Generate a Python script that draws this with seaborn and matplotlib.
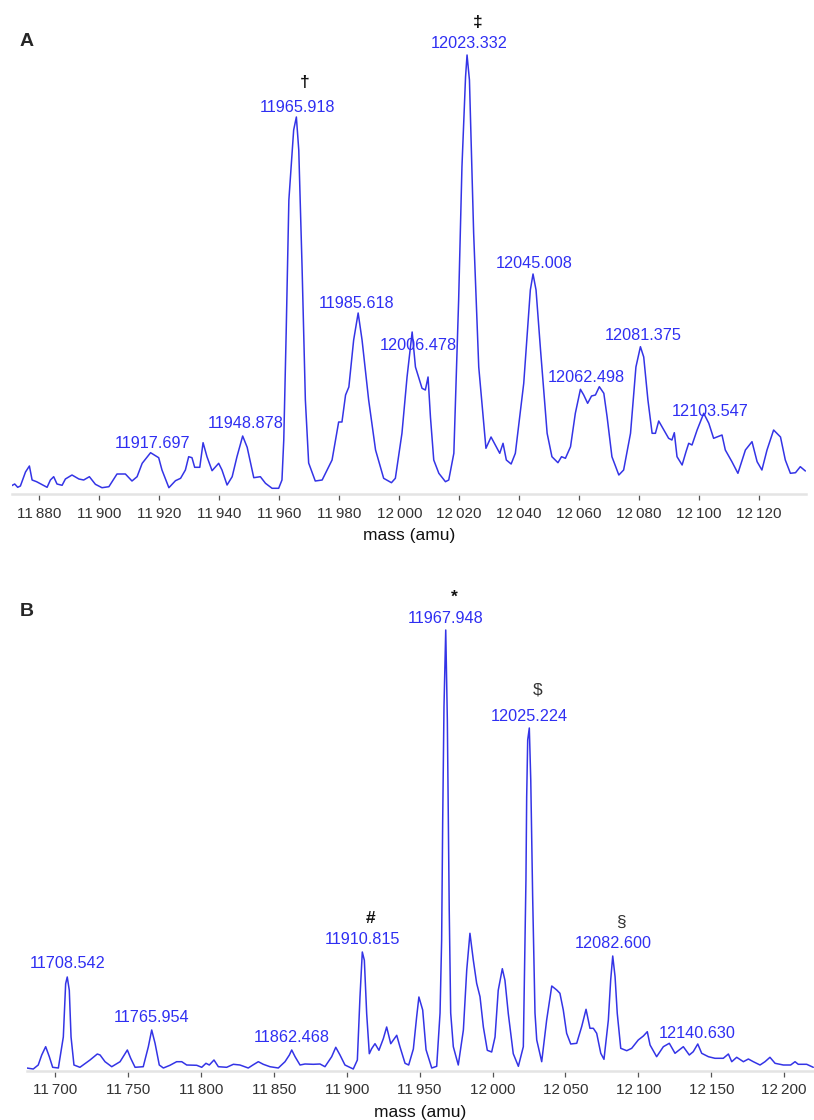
import matplotlib
matplotlib.use("Agg")
import matplotlib.pyplot as plt
from matplotlib.ticker import MultipleLocator, FuncFormatter
import numpy as np
import pandas as pd
import seaborn as sns

# ---------------- data: panel A ----------------
mass_a = [
    11870.6, 11871.8, 11872.8, 11873.7, 11875.4, 11876.7, 11877.6, 11879.1,
    11882.6, 11883.7, 11884.8, 11885.9, 11887.6, 11888.7, 11890.9, 11893.2,
    11894.8, 11896.7, 11898.7, 11900.9, 11903.2, 11905.9, 11908.7, 11910.9,
    11912.6, 11914.3, 11917.1, 11919.8, 11920.9, 11923.2, 11925.4, 11927.1,
    11928.7, 11929.8, 11930.9, 11931.8, 11933.5, 11934.6, 11935.9, 11937.6,
    11939.8, 11940.9, 11942.6, 11944.3, 11945.9, 11947.8, 11949.3, 11951.5,
    11953.7, 11955.4, 11957.6, 11959.8, 11960.9, 11961.5, 11962.3, 11963.2,
    11964.8, 11965.7, 11966.5, 11967.6, 11968.7, 11969.8, 11972.0, 11974.3,
    11977.6, 11979.8, 11980.9, 11982.1, 11983.2, 11984.8, 11986.3, 11987.6,
    11989.8, 11992.1, 11994.8, 11997.4, 11998.7, 12000.9, 12002.6, 12004.3,
    12005.4, 12007.6, 12008.7, 12009.6, 12010.4, 12011.5, 12013.2, 12015.4,
    12016.5, 12018.2, 12019.8, 12020.9, 12022.1, 12022.6, 12023.4, 12024.8,
    12026.5, 12028.9, 12030.6, 12033.5, 12034.6, 12035.7, 12037.3, 12038.7,
    12041.5, 12043.7, 12044.6, 12045.6, 12047.1, 12049.3, 12050.9, 12052.9,
    12054.1, 12055.4, 12057.1, 12058.7, 12060.4, 12061.5, 12062.8, 12064.1,
    12065.4, 12066.7, 12068.2, 12069.3, 12070.9, 12073.2, 12074.8, 12077.1,
    12078.9, 12080.4, 12081.5, 12082.9, 12084.3, 12085.4, 12086.5, 12087.9,
    12089.8, 12090.9, 12091.7, 12092.6, 12094.3, 12095.6, 12096.5, 12097.6,
    12099.3, 12101.5, 12103.2, 12104.8, 12107.6, 12108.7, 12110.9, 12112.9,
    12115.4, 12117.6, 12119.3, 12120.9, 12122.6, 12124.8, 12127.1, 12128.7,
    12130.4, 12132.1, 12133.7, 12135.4,
]
intensity_a = [
    8, 10, 6.7, 8, 22, 28, 14, 12.3,
    6.7, 14, 17.3, 10, 8.7, 15, 19, 15,
    14, 17.3, 9.7, 6.3, 7.3, 20, 20, 13,
    17.3, 30.7, 41.3, 36.3, 24, 6.3, 13.3, 15.7,
    24, 37.3, 36.3, 26.7, 26.7, 51.3, 37.3, 23.3,
    30.7, 24, 9, 17.3, 37.3, 58, 46.7, 16.3,
    17.3, 10.7, 5.7, 5.7, 14, 54, 161, 294,
    364, 377, 344, 227, 94, 31, 13, 14,
    34, 72, 72, 99, 107, 154, 181, 154,
    94, 44, 15.7, 11.3, 15.7, 60.7, 117, 162,
    127, 105.7, 104, 117, 77, 34, 20.7, 12.3,
    14, 40.7, 194, 327, 417, 439, 414, 261,
    127, 45.7, 57, 40.7, 50.7, 34, 30, 40.7,
    110.7, 204, 220, 204, 144, 60.7, 37.3, 31.3,
    37.3, 35.7, 47.3, 80.7, 104.7, 99, 90.7, 98,
    99, 107.3, 100.7, 77, 37.3, 19, 24, 60.7,
    127, 147.3, 137, 94, 60.7, 60.7, 73, 65.7,
    55.7, 54, 61.3, 37.3, 29, 42.3, 50.7, 49,
    64, 80.7, 70.7, 55.7, 59, 44, 32.3, 20.7,
    44, 52.3, 32.3, 24, 44, 64, 57, 34,
    20.7, 21.3, 27.3, 23,
]
labels_a = ["11917.697", "11948.878", "11965.918", "11985.618", "12006.478",
            "12023.332", "12045.008", "12062.498", "12081.375", "12103.547"]
label_height_a = [51, 71, 386, 191, 149, 451, 231, 116, 159, 83]
marks_a = ["\u2020", "\u2021"]
marked_a = ["11965.918", "12023.332"]
mark_height_a = [411, 472]

# ---------------- data: panel B ----------------
mass_b = [
    11680.6, 11685.1, 11688.5, 11690.9, 11693.6, 11696.1, 11698.4, 11702.3,
    11705.7, 11707.3, 11708.4, 11709.8, 11711.0, 11713.0, 11717.1, 11724.0,
    11729.0, 11730.9, 11734.3, 11738.9, 11744.6, 11749.6, 11751.9, 11754.9,
    11760.5, 11764.0, 11766.3, 11768.6, 11771.5, 11774.3, 11778.8, 11783.4,
    11786.9, 11790.3, 11797.2, 11800.6, 11803.5, 11805.8, 11809.0, 11812.0,
    11817.7, 11822.3, 11826.8, 11832.5, 11836.0, 11839.4, 11842.8, 11847.4,
    11853.1, 11857.7, 11860.7, 11862.3, 11864.6, 11868.0, 11871.4, 11877.1,
    11881.7, 11885.1, 11889.7, 11892.5, 11895.4, 11898.8, 11904.5, 11907.3,
    11909.1, 11910.7, 11912.1, 11913.7, 11915.5, 11917.1, 11919.4, 11922.1,
    11925.1, 11927.4, 11930.2, 11934.3, 11936.5, 11940.0, 11942.5, 11945.7,
    11948.0, 11949.5, 11952.1, 11954.4, 11958.3, 11961.7, 11964.0, 11965.1,
    11965.8, 11966.7, 11967.9, 11969.0, 11970.3, 11971.3, 11973.1, 11976.5,
    11980.0, 11982.3, 11984.5, 11986.8, 11989.1, 11991.4, 11993.7, 11996.4,
    11999.4, 12001.7, 12003.9, 12006.7, 12008.5, 12010.8, 12014.2, 12017.7,
    12021.1, 12022.9, 12023.4, 12024.1, 12025.2, 12026.2, 12027.5, 12029.1,
    12030.3, 12033.7, 12037.1, 12040.6, 12044.0, 12046.2, 12048.5, 12050.8,
    12053.6, 12057.7, 12061.1, 12064.1, 12066.8, 12069.1, 12071.4, 12074.2,
    12076.4, 12079.4, 12081.0, 12082.4, 12084.0, 12085.5, 12087.9, 12092.0,
    12095.4, 12099.9, 12103.4, 12106.1, 12108.0, 12112.5, 12117.1, 12121.2,
    12125.1, 12130.8, 12134.9, 12137.6, 12140.7, 12143.4, 12148.0, 12152.5,
    12158.2, 12161.7, 12164.0, 12167.4, 12172.0, 12175.4, 12178.8, 12183.4,
    12186.8, 12190.2, 12193.7, 12199.4, 12204.4, 12207.4, 12209.6, 12215.4,
    12219.9,
]
intensity_b = [
    3, 2, 6, 16, 24.3, 14.3, 3.7, 3,
    34, 87.3, 94, 80.7, 34, 6, 3.7, 11,
    17, 16, 9.3, 4.3, 9.3, 21, 12.7, 3.7,
    4.3, 24.3, 41, 27.7, 6, 3, 5.7, 9.3,
    9.3, 6, 5.7, 3.7, 7.7, 6, 11, 4.3,
    3.7, 6.7, 6, 3, 6.3, 9.3, 6.7, 4.3,
    3, 9.3, 16, 21, 14.3, 6, 7, 6.7,
    7, 4.3, 14.3, 23.7, 16, 6, 2, 11,
    74, 119, 110.7, 57.3, 17.3, 22.3, 27.3, 20.7,
    32.3, 44, 27.3, 35.7, 24.3, 7.7, 6, 22,
    54.7, 74, 61, 21.3, 3, 4.7, 58, 131,
    248, 364, 441, 351, 161, 58, 24.3, 6,
    41, 101, 137.7, 111, 87.7, 74.3, 44, 20.7,
    19, 34, 80.7, 102.3, 90.7, 57.3, 17.3, 4.7,
    24.3, 191, 274, 331, 343, 291, 174, 58,
    31, 9.3, 51, 85, 81, 77.7, 61, 37.7,
    27, 27.7, 44.3, 61.7, 42.7, 42.7, 37.7, 17.7,
    11.7, 51, 91, 115, 94.3, 57.7, 22.7, 20.3,
    22.7, 31, 35, 39.3, 26, 14.3, 24.3, 27.7,
    17.7, 24.3, 16, 19.3, 27, 17.7, 14.3, 12.7,
    12.7, 17, 9.3, 13.7, 9.3, 12, 9.3, 6,
    9.3, 13.7, 7.7, 6, 6, 9.3, 6.7, 6.7,
    3.7,
]
labels_b = ["11708.542", "11765.954", "11862.468", "11910.815",
            "11967.948", "12025.224", "12082.600", "12140.630"]
label_height_b = [107, 54, 34, 132, 453, 355, 127, 38]
marks_b = ["#", "*", "$", "\u00a7"]
marked_b = ["11910.815", "11967.948", "12025.224", "12082.600"]
mark_height_b = [153, 474, 381, 149]
mark_bold_b = [True, True, False, False]

# ---------------- styling ----------------
sns.set_theme(style="white")
plt.rcParams["font.family"] = ["Liberation Sans", "DejaVu Sans"]

LINE = "#3434e6"
LABEL = "#2f2ff2"
W, H = 814, 1120

fig = plt.figure(figsize=(W / 100, H / 100), dpi=100)


def px_axes(x0, x1, y_top, y_bot):
    return fig.add_axes([x0 / W, 1 - y_bot / H, (x1 - x0) / W, (y_bot - y_top) / H])


def fmt(v, _):
    return f"{int(round(v)):,}".replace(",", "\u2009")


def style(ax, xlim, ylim, step):
    ax.set_xlim(*xlim)
    ax.set_ylim(*ylim)
    for s in ["left", "right", "top"]:
        ax.spines[s].set_visible(False)
    ax.spines["bottom"].set_color("#e4e4e4")
    ax.spines["bottom"].set_linewidth(1.8)
    ax.set_yticks([])
    ax.set_ylabel("")
    ax.xaxis.set_major_locator(MultipleLocator(step))
    ax.xaxis.set_major_formatter(FuncFormatter(fmt))
    ax.tick_params(axis="x", bottom=True, direction="out", length=4.5, width=0.9,
                   color="#555555", pad=4.5, labelsize=11, labelcolor="#333333")
    ax.set_xlabel("mass (amu)", fontsize=12.5, color="#111111", labelpad=5.5)
    ax.patch.set_alpha(0)


# Panel A
axA = px_axes(12, 806, 20, 494)
dfA = pd.DataFrame({"mass": mass_a, "intensity": intensity_a})
sns.lineplot(data=dfA, x="mass", y="intensity", ax=axA, color=LINE,
             linewidth=1.1, estimator=None, sort=False)
style(axA, (11870.9, 12135.6), (0, 474), 20)
for lab, hy in zip(labels_a, label_height_a):
    axA.text(float(lab), hy, lab, ha="center", va="center", color=LABEL,
             fontsize=11.7, clip_on=False)
for sym, lab, hy in zip(marks_a, marked_a, mark_height_a):
    axA.annotate(sym, xy=(float(lab), hy), xytext=(8, 0), textcoords="offset pixels",
                 ha="center", va="center", fontsize=12.5, fontweight="bold",
                 color="#111111", annotation_clip=False)

# Panel B
axB = px_axes(27, 814, 590, 1071)
dfB = pd.DataFrame({"mass": mass_b, "intensity": intensity_b})
sns.lineplot(data=dfB, x="mass", y="intensity", ax=axB, color=LINE,
             linewidth=1.1, estimator=None, sort=False)
style(axB, (11680.8, 12220.4), (0, 481), 50)
for lab, hy in zip(labels_b, label_height_b):
    axB.text(float(lab), hy, lab, ha="center", va="center", color=LABEL,
             fontsize=11.7, clip_on=False)
for sym, lab, hy, bold in zip(marks_b, marked_b, mark_height_b, mark_bold_b):
    axB.annotate(sym, xy=(float(lab), hy), xytext=(8, 0), textcoords="offset pixels",
                 ha="center", va="center", fontsize=12.5,
                 fontweight="bold" if bold else "normal",
                 color="#111111" if bold else "#333333", annotation_clip=False)

fig.text(20 / W, 1 - 42 / H, "A", ha="left", va="center", fontsize=14, fontweight="bold")
fig.text(20 / W, 1 - 612 / H, "B", ha="left", va="center", fontsize=14, fontweight="bold")

fig.savefig("out.png", dpi=100, facecolor="white")
